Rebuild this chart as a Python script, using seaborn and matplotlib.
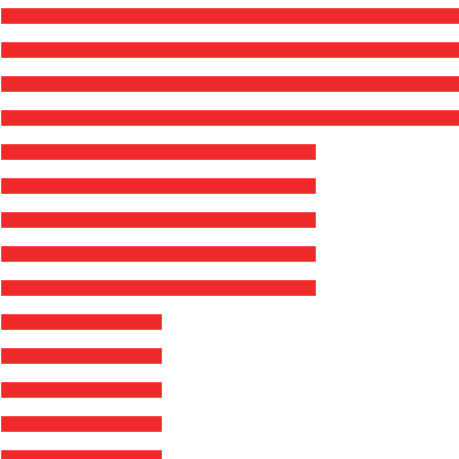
import matplotlib
matplotlib.use("Agg")
import matplotlib.pyplot as plt
import seaborn as sns
import pandas as pd

# data (no labels visible in the picture)
categories = ["c01", "c02", "c03", "c04", "c05", "c06", "c07",
              "c08", "c09", "c10", "c11", "c12", "c13", "c14"]
values = [100, 100, 100, 100, 68.5, 68.5, 68.5, 68.5, 68.5,
          35, 35, 35, 35, 35]

df = pd.DataFrame({"category": categories, "value": values})

sns.set_theme(style="white")

fig = plt.figure(figsize=(4.6, 4.6), dpi=100)
ax = fig.add_axes([0, 0, 1, 1])

sns.barplot(data=df, y="category", x="value", orient="h",
            color="#EF2A2A", saturation=1, width=0.49, ax=ax)

ax.set_xlim(0, 99.6)
ax.set_ylim(13.04, -0.49)
ax.axis("off")

fig.savefig("out.png", dpi=100, facecolor="white")
